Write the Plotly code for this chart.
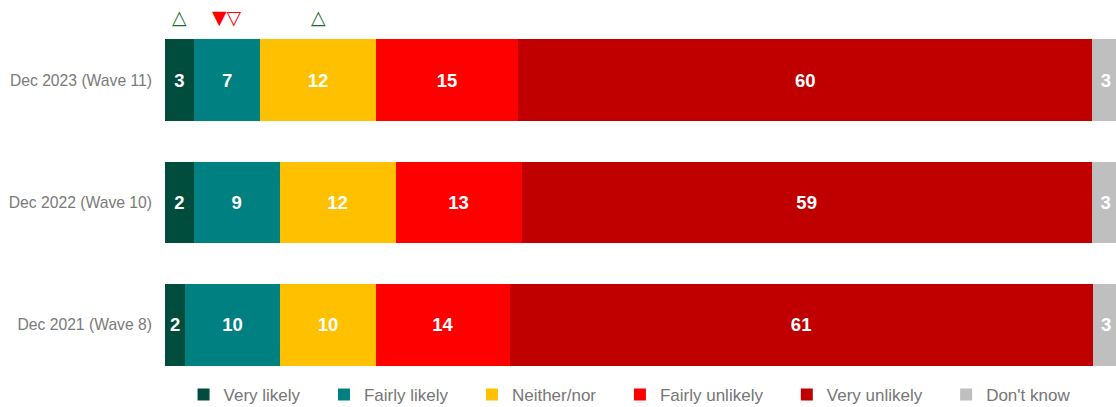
import plotly.graph_objects as go

waves = ["Dec 2023 (Wave 11)", "Dec 2022 (Wave 10)", "Dec 2021 (Wave 8)"]
series_names = ["Very likely", "Fairly likely", "Neither/nor", "Fairly unlikely", "Very unlikely", "Don't know"]
colors = ["#004D3D", "#008080", "#FFC000", "#FF0000", "#C00000", "#BFBFBF"]

# values per series, ordered like `waves`
very_likely = [3.0, 3.0, 2.1]
fairly_likely = [7.0, 9.0, 9.95]
neither_nor = [12.05, 12.15, 10.05]
fairly_unlikely = [14.95, 13.2, 14.0]
very_unlikely = [60.1, 59.7, 61.05]
dont_know = [2.9, 2.95, 2.85]

# displayed (rounded) labels
very_likely_lbl = [3, 2, 2]
fairly_likely_lbl = [7, 9, 10]
neither_nor_lbl = [12, 12, 10]
fairly_unlikely_lbl = [15, 13, 14]
very_unlikely_lbl = [60, 59, 61]
dont_know_lbl = [3, 3, 3]

values = [very_likely, fairly_likely, neither_nor, fairly_unlikely, very_unlikely, dont_know]
labels = [very_likely_lbl, fairly_likely_lbl, neither_nor_lbl, fairly_unlikely_lbl, very_unlikely_lbl, dont_know_lbl]

# significance markers for the latest wave: (series index, symbols, colour)
sig_series = [0, 1, 2]
sig_text = ["△", "▼▽", "△"]
sig_color = ["#1E6B2E", "#FF0000", "#1E6B2E"]

NBSP = "\u00a0"

fig = go.Figure()
for name, col, vals, lbl in zip(series_names, colors, values, labels):
    fig.add_trace(go.Bar(
        y=waves, x=vals, name=name + NBSP * 4, orientation="h",
        marker=dict(color=col, line=dict(width=0)),
        text=[str(v) for v in lbl], textposition="inside",
        insidetextanchor="middle", textangle=0, constraintext="none",
        textfont=dict(family="Liberation Sans, Arial", size=18.5, color="white", weight="bold"),
        hoverinfo="skip",
    ))

# significance markers above the top bar, centred on their segments
for si, txt, col in zip(sig_series, sig_text, sig_color):
    start = sum(v[0] for v in values[:si])
    center = start + values[si][0] / 2
    fig.add_annotation(x=center, xref="x", y=1, yref="paper", yanchor="middle",
                       text=txt, showarrow=False, yshift=2,
                       font=dict(family="DejaVu Sans", size=19, color=col))

fig.update_layout(
    width=1116, height=407,
    barmode="stack", bargap=0.33,
    plot_bgcolor="white", paper_bgcolor="white",
    margin=dict(l=165, r=0, t=18.75, b=20.75, autoexpand=False),
    xaxis=dict(range=[0, 99.6], showgrid=False, zeroline=False, showticklabels=False, fixedrange=True),
    yaxis=dict(autorange="reversed", showgrid=False, zeroline=False, fixedrange=True,
               tickfont=dict(family="Liberation Sans, Arial", size=15.7, color="#7A7A7A"),
               ticklabelstandoff=12, ticks=""),
    legend=dict(orientation="h", x=0.0195, xanchor="left",
                yref="container", y=0.0295, yanchor="middle",
                font=dict(family="Liberation Sans, Arial", size=17, color="#767676"),
                traceorder="normal", itemwidth=30),
    showlegend=True,
)

fig.write_html(
    "out.html",
    config={"displayModeBar": False},
    post_script="document.body.style.margin='0';document.documentElement.style.overflow='hidden';",
)
